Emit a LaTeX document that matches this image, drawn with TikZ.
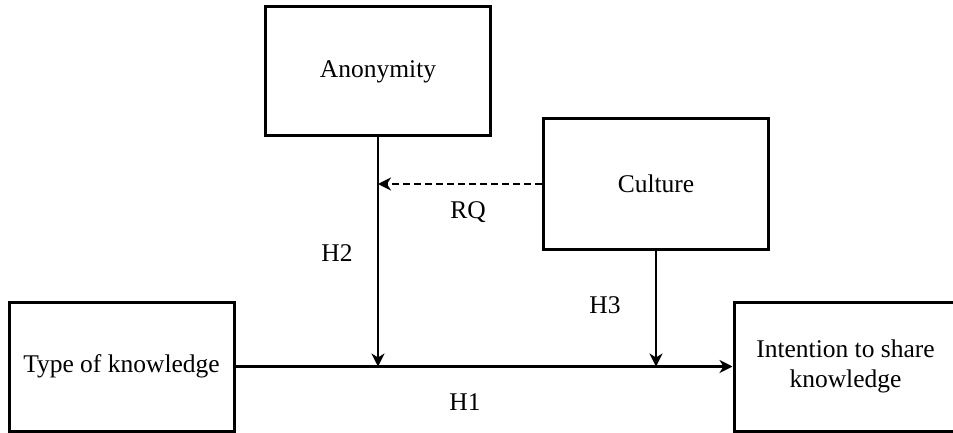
\documentclass[tikz,border=0pt]{standalone}
\usepackage{fontspec}
\setmainfont{Liberation Serif}
\usetikzlibrary{arrows.meta}
\tikzset{
  varbox/.style={draw, line width=3pt, minimum width=225pt, minimum height=129pt,
    inner sep=0pt, align=center, font=\fontsize{25.5}{30}\selectfont},
  link/.style={line width=2.8pt, -{Stealth[length=13pt, width=13pt, inset=4pt]}},
  hyp/.style={font=\fontsize{25.5}{30}\selectfont}
}
\begin{document}
\begin{tikzpicture}[x=1pt, y=-1pt]
  \useasboundingbox (0,0) rectangle (953,433);

  % Variables
  \node[varbox] (anon) at (378, 71.5) {\raisebox{-5pt}{Anonymity}};
  \node[varbox, minimum height=130pt] (cult) at (656, 184) {Culture};
  \node[varbox] (type) at (121.5, 366.5) {Type of knowledge};
  \node[varbox, minimum width=223pt] (intent) at (845.5, 366.5) {Intention to share\\knowledge};

  % Junctions on the main path
  \coordinate (j2) at (anon.south |- type.east);
  \coordinate (j3) at (cult.south |- type.east);

  % Main effect and moderators
  \draw[link] (type.east) -- (intent.west);
  \draw[link] (anon.south) -- (j2);
  \draw[link] (cult.south) -- (j3);
  \draw[link, dash pattern=on 7pt off 4pt] (cult.west) -- (cult.west -| anon.south);

  % Hypotheses
  \node[hyp] (h1) at (465, 402) {H1};
  \node[hyp] (h2) at (337, 253) {H2};
  \node[hyp] (h3) at (605, 305) {H3};
  \node[hyp] (rq) at (468, 212) {RQ};
\end{tikzpicture}
\end{document}
